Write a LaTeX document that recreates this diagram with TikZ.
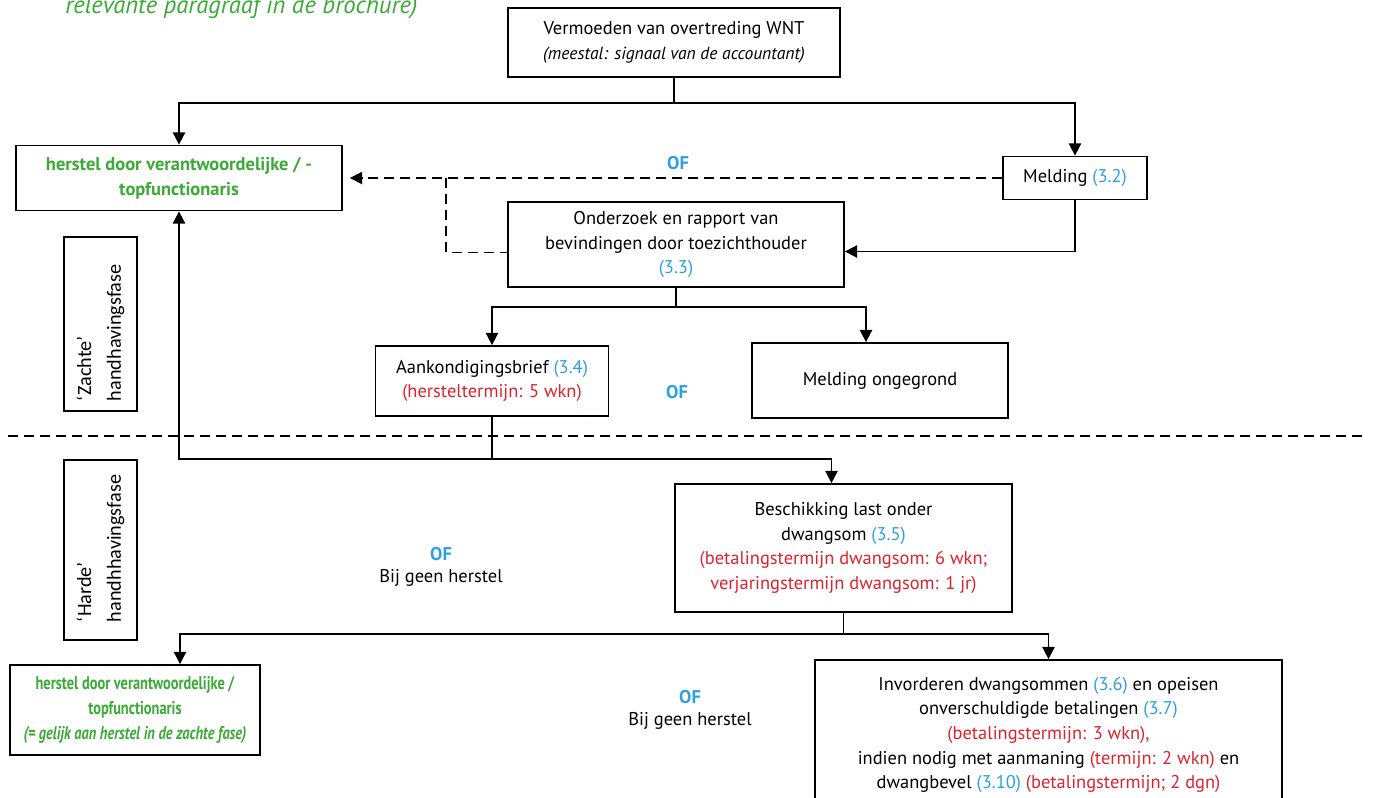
\documentclass[tikz,border=0pt]{standalone}
\usepackage{fontspec}
\setmainfont{PT Sans}
\newfontfamily\calfont{Carlito}
\usepackage{xcolor}
\usepackage{graphicx}
\usetikzlibrary{positioning,calc,arrows.meta}
\definecolor{rgreen}{RGB}{60,170,55}
\definecolor{rblue}{RGB}{45,160,225}
\definecolor{rred}{RGB}{220,35,45}
\newcommand{\parnr}[1]{\textcolor{rblue}{(#1)}}
\newcommand{\termijn}[1]{\textcolor{rred}{#1}}
\newcommand{\smal}[1]{\scalebox{0.78}[1]{#1}}
\AtBeginDocument{\fontsize{10.5}{14}\selectfont}
\tikzset{
  blok/.style={draw, rectangle, line width=1pt, align=center, inner sep=2pt},
  pijl/.style={-{Triangle[length=7pt,width=7pt]}, line width=1pt},
  lijn/.style={line width=1pt},
  stippel/.style={line width=1pt, dash pattern=on 2mm off 1.2mm},
  of/.style={text=rblue, font=\bfseries},
  fase/.style={draw, rectangle, line width=1pt, rotate=90, align=left,
    font=\calfont\fontsize{11.5}{17}\selectfont},
}

\begin{document}
\begin{tikzpicture}[x=0.2mm, y=-0.2mm]
    \useasboundingbox (0,0) rectangle (1373,798);

    % kop (afgesneden)
    \node[anchor=base west, text=rgreen, font=\itshape\fontsize{14}{16}\selectfont, inner sep=0pt] (kop) at (65,14) {relevante paragraaf in de brochure)};

    % zachte fase
    \node (vermoeden) [blok, minimum width=66.4mm, minimum height=13.8mm] at (674,42.5) {Vermoeden van overtreding WNT\\{\itshape\fontsize{10}{14}\selectfont (meestal: signaal van de accountant)}};
    \node (herstel) [blok, text=rgreen, font=\bfseries, minimum width=65.2mm, minimum height=13mm] at (179,178) {herstel door verantwoordelijke / -\\topfunctionaris};
    \node (melding) [blok, minimum width=28.8mm, minimum height=8.6mm] at (1075,178) {Melding \parnr{3.2}};
    \node (of1) [of] at (678,163) {OF};
    \node (onderzoek) [blok, minimum width=67.2mm, minimum height=17mm] at (676,244.5) {Onderzoek en rapport van\\bevindingen door toezichthouder\\\parnr{3.3}};
    \node (aank) [blok, minimum width=46.6mm, minimum height=14mm] at (492,381) {Aankondigingsbrief \parnr{3.4}\\\termijn{(hersteltermijn: 5 wkn)}};
    \node (ongegrond) [blok, minimum width=51.2mm, minimum height=15mm] at (880,380.5) {Melding ongegrond};
    \node (of2) [of] at (677,392) {OF};
    \node (zacht) [fase, minimum width=34.8mm, minimum height=14.6mm, text width=30.8mm, inner xsep=2mm] at (100.5,324) {‘Zachte’\\handhavingsfase};

    % grens tussen de fasen
    \draw[stippel] (8,436) -- (1365,436);

    % harde fase
    \node (harde) [fase, minimum width=36mm, minimum height=14.6mm, text width=28.8mm, inner xsep=3.6mm] at (100.5,550) {‘Harde’\\handhhavingsfase};
    \node (beschikking) [blok, minimum width=67.4mm, minimum height=25.6mm] at (843.5,548) {Beschikking last onder\\dwangsom \parnr{3.5}\\\termijn{(betalingstermijn dwangsom: 6 wkn;}\\\termijn{verjaringstermijn dwangsom: 1 jr)}};
    \node (of3) [of] at (441,554) {OF};
    \node (geen1) at (441,578) {Bij geen herstel};
    \node (herstel2) [blok, text=rgreen, font=\bfseries, minimum width=50mm, minimum height=18mm] at (135,710) {\smal{herstel door verantwoordelijke /}\\\smal{topfunctionaris}\\\smal{\itshape (= gelijk aan herstel in de zachte fase)}};
    \node (of4) [of] at (690,697) {OF};
    \node (geen2) at (690,721) {Bij geen herstel};
    \node (invorderen) [blok, minimum width=93.4mm, minimum height=30mm] at (1048.5,735) {Invorderen dwangsommen \parnr{3.6} en opeisen\\onverschuldigde betalingen \parnr{3.7}\\\termijn{(betalingstermijn: 3 wkn),}\\indien nodig met aanmaning \termijn{(termijn: 2 wkn)} en\\dwangbevel \parnr{3.10} \termijn{(betalingstermijn; 2 dgn)}};

    % verbindingen
    \coordinate (j1) at (674,103);
    \draw[lijn] (vermoeden.south) -- (j1);
    \draw[pijl] (j1) -| (herstel.north);
    \draw[pijl] (j1) -| (melding.north);
    \draw[stippel, -{Triangle[length=7pt,width=7pt]}, shorten >=4pt] (melding.west) -- (herstel.east);
    \coordinate (k1) at (446,178);
    \draw[stippel] (k1) |- ($(onderzoek.west)+(0,8)$);
    \draw[pijl] (melding.south) |- ($(onderzoek.east)+(0,7)$);
    \coordinate (j2) at (676,307);
    \draw[lijn] (onderzoek.south) -- (j2);
    \draw[pijl] (j2) -| (aank.north);
    \draw[pijl] (j2) -| ($(ongegrond.north)+(-14,0)$);
    \coordinate (j3) at ($(aank.south)+(0,42)$);
    \draw[lijn] (aank.south) -- (j3);
    \draw[pijl] (j3) -| (herstel.south);
    \draw[pijl] (j3) -| ($(beschikking.north)+(-12,0)$);
    \coordinate (j4) at ($(beschikking.south)+(0,21)$);
    \draw[lijn] (beschikking.south) -- (j4);
    \draw[pijl] (j4) -| ($(herstel2.north)+(45,0)$);
    \draw[pijl] (j4) -| (invorderen.north);
\end{tikzpicture}
\end{document}
